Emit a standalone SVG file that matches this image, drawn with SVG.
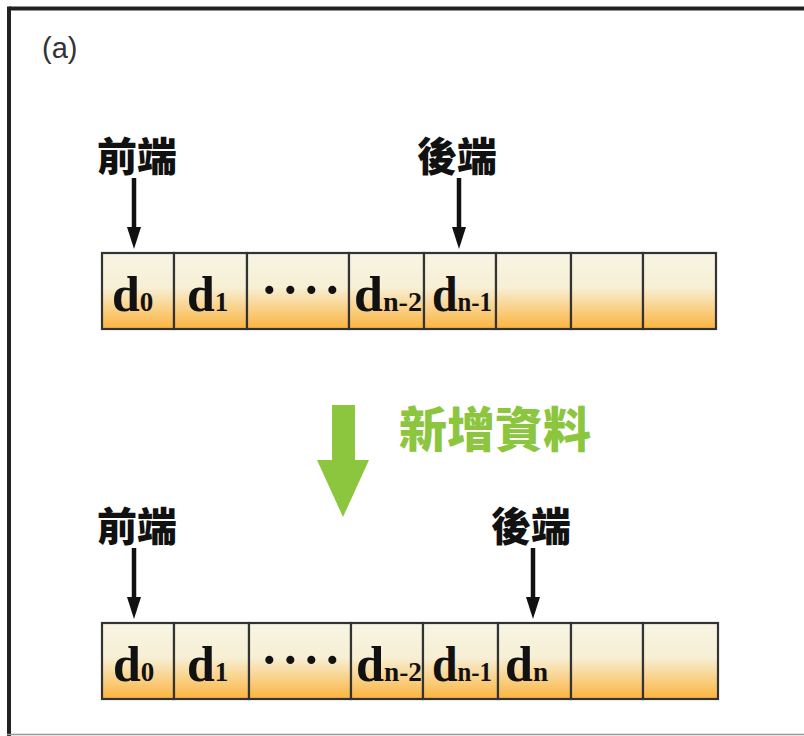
<svg xmlns="http://www.w3.org/2000/svg" width="804" height="736" viewBox="0 0 804 736">
<style>
.cell{fill:url(#cg);stroke:#333;stroke-width:2.2}
.d{font-family:"Liberation Serif",serif;font-weight:bold;font-size:50px;fill:#111}
.sub{font-size:27px}
.dots{font-family:"Liberation Serif",serif;font-weight:bold;font-size:50px;fill:#111}
.lbl{font-family:"Noto Sans CJK TC","Noto Sans CJK SC",sans-serif;font-weight:900;font-size:40px;fill:#111;text-anchor:middle}
.green{font-family:"Noto Sans CJK TC","Noto Sans CJK SC",sans-serif;font-weight:900;font-size:48px;fill:#8cc63f}
.ptr{stroke:#111;stroke-width:4.5;marker-end:url(#ah)}
</style>
<defs>
<linearGradient id="cg" x1="0" y1="0" x2="0" y2="1">
<stop offset="0" stop-color="#f7f5e4"/>
<stop offset="0.45" stop-color="#f7efd5"/>
<stop offset="1" stop-color="#fbb43e"/>
</linearGradient>
<marker id="ah" markerUnits="userSpaceOnUse" viewBox="0 0 22 14" markerWidth="22" markerHeight="14" refX="13" refY="7" orient="auto">
<path d="M0,0 L22,7 L0,14 Z" fill="#111"/>
</marker>
</defs>
<rect width="804" height="736" fill="#fff"/>
<g id="frame">
<line x1="9" y1="8.5" x2="804" y2="8.5" stroke="#222" stroke-width="4"/>
<line x1="9" y1="6.5" x2="9" y2="736" stroke="#222" stroke-width="4"/>
<line x1="7" y1="734.5" x2="804" y2="734.5" stroke="#999" stroke-width="1.5"/>
</g>
<text id="caption" x="42" y="58" font-family="Liberation Sans, sans-serif" font-size="29" fill="#333">(a)</text>

<g id="row1">
<g id="r1c0"><rect class="cell" x="102" y="253" width="72" height="76"/><text class="d" x="112" y="311">d<tspan class="sub">0</tspan></text></g>
<g id="r1c1"><rect class="cell" x="174" y="253" width="73" height="76"/><text class="d" x="187" y="311">d<tspan class="sub">1</tspan></text></g>
<g id="r1c2"><rect class="cell" x="247" y="253" width="102" height="76"/><text class="dots" x="261 282 303 324" y="307">····</text></g>
<g id="r1c3"><rect class="cell" x="349" y="253" width="75" height="76"/><text class="d" x="354" y="311" textLength="68" lengthAdjust="spacingAndGlyphs">d<tspan class="sub">n-2</tspan></text></g>
<g id="r1c4"><rect class="cell" x="424" y="253" width="72" height="76"/><text class="d" x="432" y="311" textLength="60" lengthAdjust="spacingAndGlyphs">d<tspan class="sub">n-1</tspan></text></g>
<g id="r1c5"><rect class="cell" x="496" y="253" width="75" height="76"/></g>
<g id="r1c6"><rect class="cell" x="571" y="253" width="72" height="76"/></g>
<g id="r1c7"><rect class="cell" x="643" y="253" width="73" height="76"/></g>
</g>

<g id="row2">
<g id="r2c0"><rect class="cell" x="102" y="623" width="72" height="76"/><text class="d" x="113" y="681">d<tspan class="sub">0</tspan></text></g>
<g id="r2c1"><rect class="cell" x="174" y="623" width="75" height="76"/><text class="d" x="187" y="681">d<tspan class="sub">1</tspan></text></g>
<g id="r2c2"><rect class="cell" x="249" y="623" width="102" height="76"/><text class="dots" x="261 282 303 324" y="677">····</text></g>
<g id="r2c3"><rect class="cell" x="351" y="623" width="72" height="76"/><text class="d" x="356" y="681" textLength="66" lengthAdjust="spacingAndGlyphs">d<tspan class="sub">n-2</tspan></text></g>
<g id="r2c4"><rect class="cell" x="423" y="623" width="75" height="76"/><text class="d" x="432" y="681" textLength="60" lengthAdjust="spacingAndGlyphs">d<tspan class="sub">n-1</tspan></text></g>
<g id="r2c5"><rect class="cell" x="498" y="623" width="73" height="76"/><text class="d" x="505" y="681" textLength="43" lengthAdjust="spacingAndGlyphs">d<tspan class="sub">n</tspan></text></g>
<g id="r2c6"><rect class="cell" x="571" y="623" width="72" height="76"/></g>
<g id="r2c7"><rect class="cell" x="643" y="623" width="75" height="76"/></g>
</g>

<g id="labels">
<text id="front1" class="lbl" x="137" y="171">前端</text>
<text id="rear1" class="lbl" x="457" y="171">後端</text>
<text id="front2" class="lbl" x="137" y="541">前端</text>
<text id="rear2" class="lbl" x="531" y="541">後端</text>
</g>

<g id="add">
<polygon points="332,405 355,405 355,460 369,460 343,517 317,460 332,460" fill="#8cc63f"/>
<text class="green" x="399" y="447">新增資料</text>
</g>

<g id="connectors">
<line class="ptr" x1="134" y1="178" x2="134" y2="240"/>
<line class="ptr" x1="459" y1="178" x2="459" y2="240"/>
<line class="ptr" x1="134" y1="548" x2="134" y2="610"/>
<line class="ptr" x1="533" y1="548" x2="533" y2="610"/>
</g>
</svg>
